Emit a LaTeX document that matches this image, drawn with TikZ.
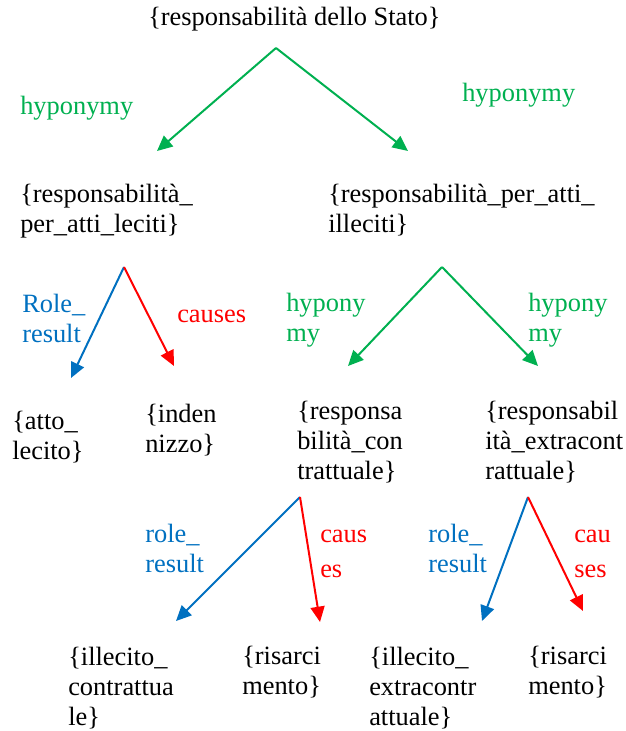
\documentclass[tikz,border=0pt]{standalone}
\usepackage{fontspec}
\setmainfont{Liberation Serif}
\usetikzlibrary{arrows.meta}
\definecolor{hypgreen}{RGB}{0,176,80}
\definecolor{roleblue}{RGB}{0,112,192}
\definecolor{causered}{RGB}{255,0,0}
\newcommand\stacklines[1]{\begin{tabular}[t]{@{}l@{}}#1\end{tabular}}
\tikzset{
  lbl/.style={anchor=base west, inner sep=0pt, font=\fontsize{19.8}{22.5}\selectfont},
  concept/.style={lbl, text=black},
  hyplbl/.style={lbl, text=hypgreen},
  rolelbl/.style={lbl, text=roleblue},
  causelbl/.style={lbl, text=causered},
  rel/.style={line width=1.5pt, -{Triangle[length=11.5pt, width=10.5pt]}},
  hyparrow/.style={rel, draw=hypgreen},
  rolearrow/.style={rel, draw=roleblue},
  causearrow/.style={rel, draw=causered}
}
\begin{document}
\begin{tikzpicture}[x=0.75pt, y=-0.75pt]
\useasboundingbox (0,0) rectangle (625,731);

% concepts
\node[concept] (stato) at (148,26) {\{responsabilità dello Stato\}};
\node[concept] (leciti) at (20,202) {\stacklines{\{responsabilità\_\\per\_atti\_leciti\}}};
\node[concept] (illeciti) at (328,202) {\stacklines{\{responsabilità\_per\_atti\_\\illeciti\}}};
\node[concept] (atto) at (12,429) {\stacklines{\{atto\_\\lecito\}}};
\node[concept] (indennizzo) at (145,422) {\stacklines{\{inden\\nizzo\}}};
\node[concept] (contr) at (297,419) {\stacklines{\{responsa\\bilità\_con\\trattuale\}}};
\node[concept] (extra) at (485,419) {\stacklines{\{responsabil\\ità\_extracont\\rattuale\}}};
\node[concept] (illcontr) at (68,665) {\stacklines{\{illecito\_\\contrattua\\le\}}};
\node[concept] (ris1) at (242,664) {\stacklines{\{risarci\\mento\}}};
\node[concept] (illextra) at (369,665) {\stacklines{\{illecito\_\\extracontr\\attuale\}}};
\node[concept] (ris2) at (528,664) {\stacklines{\{risarci\\mento\}}};

% relation labels
\node[hyplbl] (h1) at (20,115) {hyponymy};
\node[hyplbl] (h2) at (462,102) {hyponymy};
\node[rolelbl] (r1) at (22,312) {\stacklines{Role\_\\result}};
\node[causelbl] (c1) at (177,322) {causes};
\node[hyplbl] (h3) at (286,311) {\stacklines{hypony\\my}};
\node[hyplbl] (h4) at (528,311) {\stacklines{hypony\\my}};
\node[rolelbl] (r2) at (145,542) {\stacklines{role\_\\result}};
\node[causelbl] (c2) at (320,542) {\stacklines{caus\\[3.75pt]es}};
\node[rolelbl] (r3) at (428,542) {\stacklines{role\_\\result}};
\node[causelbl] (c3) at (574,542) {\stacklines{cau\\[3.75pt]ses}};

% branching points and arrow ends
\coordinate (a0) at (276,48);
\coordinate (t01) at (157,151);
\coordinate (t02) at (408,151);
\coordinate (a1) at (124,267);
\coordinate (t11) at (71,378);
\coordinate (t12) at (174,366);
\coordinate (a2) at (442,267);
\coordinate (t21) at (348,366);
\coordinate (t22) at (538,366);
\coordinate (a3) at (300,497);
\coordinate (t31) at (176,621);
\coordinate (t32) at (320,622);
\coordinate (a4) at (528,497);
\coordinate (t41) at (482,621);
\coordinate (t42) at (583,611);

% relations
\draw[hyparrow] (a0) -- (t01);
\draw[hyparrow] (a0) -- (t02);
\draw[rolearrow] (a1) -- (t11);
\draw[causearrow] (a1) -- (t12);
\draw[hyparrow] (a2) -- (t21);
\draw[hyparrow] (a2) -- (t22);
\draw[rolearrow] (a3) -- (t31);
\draw[causearrow] (a3) -- (t32);
\draw[rolearrow] (a4) -- (t41);
\draw[causearrow] (a4) -- (t42);
\end{tikzpicture}
\end{document}
